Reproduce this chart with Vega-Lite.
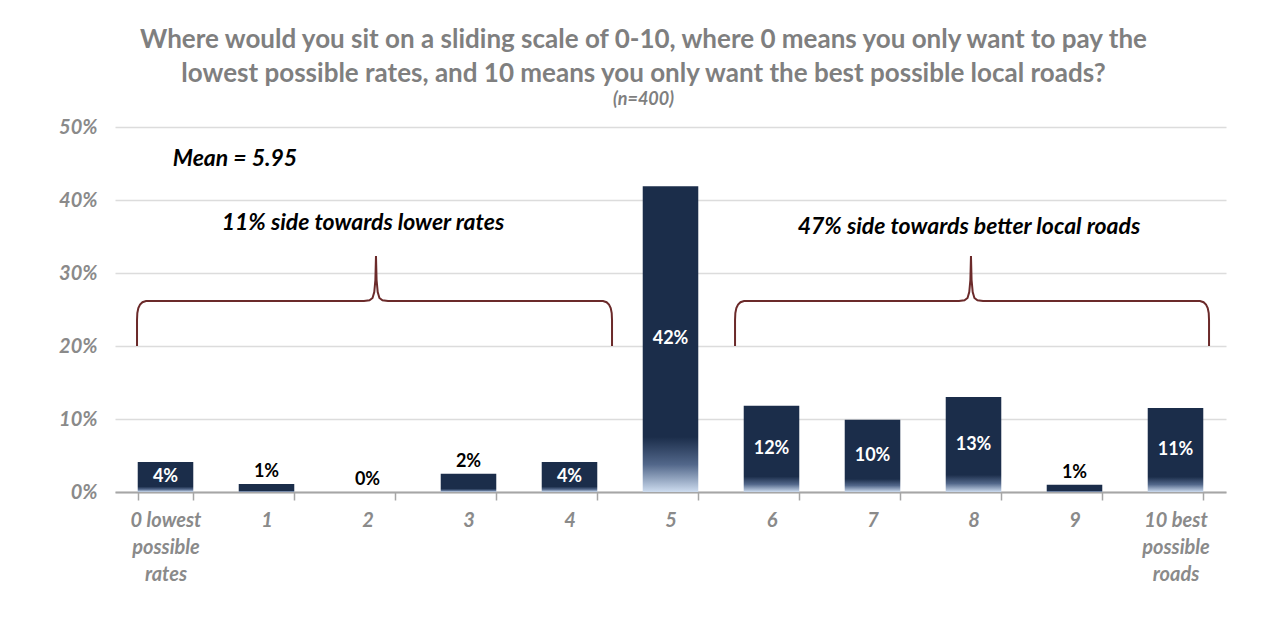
{
  "$schema": "https://vega.github.io/schema/vega-lite/v6.json",
  "width": 1111,
  "height": 365,
  "autosize": {"type": "none"},
  "padding": {"left": 115, "top": 127, "right": 58, "bottom": 143},
  "background": "white",
  "title": {
    "text": ["Where would you sit on a sliding scale of 0-10, where 0 means you only want to pay the", "lowest possible rates, and 10 means you only want the best possible local roads?"],
    "subtitle": "(n=400)",
    "anchor": "middle",
    "dx": -27,
    "offset": 8,
    "font": "Lato",
    "fontSize": 26,
    "fontWeight": "bold",
    "color": "#7f7f7f",
    "lineHeight": 34,
    "subtitleFont": "Lato",
    "subtitleFontSize": 18,
    "subtitleFontWeight": "bold",
    "subtitleFontStyle": "italic",
    "subtitleColor": "#7f7f7f",
    "subtitlePadding": 4
  },
  "datasets": {
    "bars": [
      {"cat": "0 lowest|possible|rates", "value": 4.1, "label": "4%"},
      {"cat": "1", "value": 1.1, "label": "1%"},
      {"cat": "2", "value": 0, "label": "0%"},
      {"cat": "3", "value": 2.5, "label": "2%"},
      {"cat": "4", "value": 4.1, "label": "4%"},
      {"cat": "5", "value": 41.9, "label": "42%"},
      {"cat": "6", "value": 11.8, "label": "12%"},
      {"cat": "7", "value": 9.9, "label": "10%"},
      {"cat": "8", "value": 13.0, "label": "13%"},
      {"cat": "9", "value": 1.0, "label": "1%"},
      {"cat": "10 best|possible|roads", "value": 11.5, "label": "11%"}
    ],
    "braces": [
      {"brace": "left", "o": 1, "bx": -0.282, "by": 20.0},
      {"brace": "left", "o": 2, "bx": -0.282, "by": 23.56},
      {"brace": "left", "o": 3, "bx": -0.279, "by": 24.52},
      {"brace": "left", "o": 4, "bx": -0.269, "by": 25.21},
      {"brace": "left", "o": 5, "bx": -0.252, "by": 25.68},
      {"brace": "left", "o": 6, "bx": -0.228, "by": 26.0},
      {"brace": "left", "o": 7, "bx": -0.193, "by": 26.16},
      {"brace": "left", "o": 8, "bx": 1.965, "by": 26.16},
      {"brace": "left", "o": 9, "bx": 2.02, "by": 26.26},
      {"brace": "left", "o": 10, "bx": 2.05, "by": 26.58},
      {"brace": "left", "o": 11, "bx": 2.067, "by": 27.4},
      {"brace": "left", "o": 12, "bx": 2.078, "by": 29.04},
      {"brace": "left", "o": 13, "bx": 2.084, "by": 32.33},
      {"brace": "left", "o": 14, "bx": 2.09, "by": 29.04},
      {"brace": "left", "o": 15, "bx": 2.101, "by": 27.4},
      {"brace": "left", "o": 16, "bx": 2.118, "by": 26.58},
      {"brace": "left", "o": 17, "bx": 2.148, "by": 26.26},
      {"brace": "left", "o": 18, "bx": 2.203, "by": 26.16},
      {"brace": "left", "o": 19, "bx": 4.332, "by": 26.16},
      {"brace": "left", "o": 20, "bx": 4.367, "by": 26.0},
      {"brace": "left", "o": 21, "bx": 4.391, "by": 25.68},
      {"brace": "left", "o": 22, "bx": 4.408, "by": 25.21},
      {"brace": "left", "o": 23, "bx": 4.418, "by": 24.52},
      {"brace": "left", "o": 24, "bx": 4.421, "by": 23.56},
      {"brace": "left", "o": 25, "bx": 4.421, "by": 20.0},
      {"brace": "right", "o": 1, "bx": 5.639, "by": 20.0},
      {"brace": "right", "o": 2, "bx": 5.639, "by": 23.56},
      {"brace": "right", "o": 3, "bx": 5.642, "by": 24.52},
      {"brace": "right", "o": 4, "bx": 5.652, "by": 25.21},
      {"brace": "right", "o": 5, "bx": 5.669, "by": 25.68},
      {"brace": "right", "o": 6, "bx": 5.693, "by": 26.0},
      {"brace": "right", "o": 7, "bx": 5.728, "by": 26.16},
      {"brace": "right", "o": 8, "bx": 7.856, "by": 26.16},
      {"brace": "right", "o": 9, "bx": 7.911, "by": 26.26},
      {"brace": "right", "o": 10, "bx": 7.941, "by": 26.58},
      {"brace": "right", "o": 11, "bx": 7.958, "by": 27.4},
      {"brace": "right", "o": 12, "bx": 7.969, "by": 29.04},
      {"brace": "right", "o": 13, "bx": 7.975, "by": 32.33},
      {"brace": "right", "o": 14, "bx": 7.981, "by": 29.04},
      {"brace": "right", "o": 15, "bx": 7.992, "by": 27.4},
      {"brace": "right", "o": 16, "bx": 8.009, "by": 26.58},
      {"brace": "right", "o": 17, "bx": 8.039, "by": 26.26},
      {"brace": "right", "o": 18, "bx": 8.094, "by": 26.16},
      {"brace": "right", "o": 19, "bx": 10.243, "by": 26.16},
      {"brace": "right", "o": 20, "bx": 10.278, "by": 26.0},
      {"brace": "right", "o": 21, "bx": 10.302, "by": 25.68},
      {"brace": "right", "o": 22, "bx": 10.319, "by": 25.21},
      {"brace": "right", "o": 23, "bx": 10.329, "by": 24.52},
      {"brace": "right", "o": 24, "bx": 10.332, "by": 23.56},
      {"brace": "right", "o": 25, "bx": 10.332, "by": 20.0}
    ],
    "notes": [
      {"nx": 0.688, "ny": 45.6, "text": "Mean = 5.95"},
      {"nx": 1.955, "ny": 36.85, "text": "11% side towards lower rates"},
      {"nx": 7.955, "ny": 36.3, "text": "47% side towards better local roads"}
    ]
  },
  "layer": [
    {
      "data": {"name": "bars"},
      "encoding": {
        "x": {
          "field": "cat",
          "type": "nominal",
          "sort": null,
          "scale": {"paddingInner": 0.45, "paddingOuter": 0.225},
          "axis": {
            "title": null,
            "labelAngle": 0,
            "labelExpr": "datum.value ? split(datum.value, '|') : ''",
            "labelFont": "Lato",
            "labelFontSize": 20,
            "labelFontWeight": "bold",
            "labelFontStyle": "italic",
            "labelColor": "#8a8a8a",
            "labelLineHeight": 27,
            "labelBaseline": "top",
            "labelPadding": 10,
            "domainColor": "#a6a6a6",
            "domainWidth": 2,
            "tickColor": "#a6a6a6",
            "tickWidth": 1.5,
            "tickSize": 8,
            "tickBand": "extent",
            "grid": false
          }
        }
      },
      "layer": [
        {
          "mark": {
            "type": "bar",
            "color": {
              "gradient": "linear",
              "x1": 0, "y1": 0, "x2": 0, "y2": 1,
              "stops": [
                {"offset": 0, "color": "#1b2d4a"},
                {"offset": 0.82, "color": "#1b2d4a"},
                {"offset": 0.91, "color": "#52678a"},
                {"offset": 1, "color": "#cddcef"}
              ]
            }
          },
          "encoding": {
            "y": {
              "field": "value",
              "type": "quantitative",
              "scale": {"domain": [0, 50]},
              "axis": {
                "title": null,
                "values": [0, 10, 20, 30, 40, 50],
                "labelExpr": "datum.value + '%'",
                "labelFont": "Lato",
                "labelFontSize": 20,
                "labelFontWeight": "bold",
                "labelFontStyle": "italic",
                "labelColor": "#8a8a8a",
                "labelPadding": 18,
                "domain": false,
                "ticks": false,
                "grid": true,
                "gridColor": "#dcdcdc",
                "gridWidth": 1.5
              }
            }
          }
        },
        {
          "transform": [
            {"filter": "datum.value >= 4"},
            {"calculate": "datum.value / 2", "as": "mid"}
          ],
          "mark": {"type": "text", "font": "Lato", "fontSize": 18, "fontWeight": "bold", "color": "white", "baseline": "middle"},
          "encoding": {
            "y": {"field": "mid", "type": "quantitative"},
            "text": {"field": "label"}
          }
        },
        {
          "transform": [{"filter": "datum.value < 4"}],
          "mark": {"type": "text", "font": "Lato", "fontSize": 18, "fontWeight": "bold", "color": "black", "baseline": "bottom", "dy": -3},
          "encoding": {
            "y": {"field": "value", "type": "quantitative"},
            "text": {"field": "label"}
          }
        }
      ]
    },
    {
      "layer": [
        {
          "data": {"name": "braces"},
          "mark": {"type": "line", "color": "#6b2a2a", "strokeWidth": 2, "interpolate": "linear"},
          "encoding": {
            "x": {"field": "bx", "type": "quantitative", "scale": {"domain": [-0.5, 10.5], "nice": false, "zero": false}, "axis": null},
            "y": {"field": "by", "type": "quantitative"},
            "detail": {"field": "brace"},
            "order": {"field": "o"}
          }
        },
        {
          "data": {"name": "notes"},
          "mark": {"type": "text", "font": "Lato", "fontSize": 23, "fontWeight": "bold", "fontStyle": "italic", "color": "black", "baseline": "middle", "align": "center"},
          "encoding": {
            "x": {"field": "nx", "type": "quantitative", "scale": {"domain": [-0.5, 10.5], "nice": false, "zero": false}, "axis": null},
            "y": {"field": "ny", "type": "quantitative"},
            "text": {"field": "text"}
          }
        }
      ]
    }
  ],
  "resolve": {"scale": {"x": "independent"}, "axis": {"x": "independent"}},
  "config": {"view": {"stroke": null}}
}
